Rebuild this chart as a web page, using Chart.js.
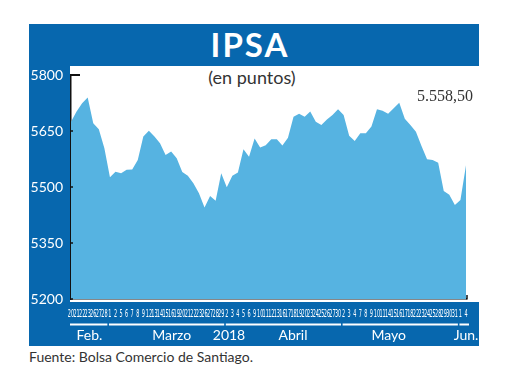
<!DOCTYPE html>
<html>
<head>
<meta charset="utf-8">
<script src="https://cdn.jsdelivr.net/npm/chart.js@4"></script>
<style>
  html, body { margin: 0; padding: 0; background: #ffffff; }
  #wrap { position: relative; width: 520px; height: 390px; overflow: hidden; background: #fff; }
  #frame { position: absolute; left: 29px; top: 24px; width: 450px; height: 322px; background: #0767ae; }
  #panel { position: absolute; left: 70px; top: 66px; width: 409px; height: 236px; background: #ffffff; }
  #title { position: absolute; left: 29px; top: 24px; width: 442px; height: 42px; line-height: 42px;
           text-align: center; color: #fff; font: 700 33px Lato, "Open Sans", sans-serif; letter-spacing: 2px; }
  #subtitle { position: absolute; left: 160px; top: 66px; width: 184px; text-align: center; color: #333;
              font: 18px Lato, "Open Sans", sans-serif; line-height: 22px; }
  #source { position: absolute; left: 29px; top: 348px; color: #333; font: 14px Lato, "Open Sans", sans-serif; line-height: 18px; }
  canvas { position: absolute; left: 0; top: 0; }
</style>
</head>
<body>
<div id="wrap">
  <div id="frame"></div>
  <div id="panel"></div>
  <div id="title">IPSA</div>
  <div id="subtitle">(en puntos)</div>
  <div id="source">Fuente: Bolsa Comercio de Santiago.</div>
  <canvas id="c" width="520" height="390"></canvas>
</div>
<script>
// ---- data ----
const febDays = [20, 21, 22, 23, 26, 27, 28];
const marDays = [1, 2, 5, 6, 7, 8, 9, 12, 13, 14, 15, 16, 19, 20, 21, 22, 23, 26, 27, 28, 29];
const aprDays = [2, 3, 4, 5, 6, 9, 10, 11, 12, 13, 16, 17, 18, 19, 20, 23, 24, 25, 26, 27, 30];
const mayDays = [2, 3, 4, 7, 8, 9, 10, 11, 14, 15, 16, 17, 18, 22, 23, 24, 25, 28, 29, 30, 31];
const junDays = [1, 4];

const febValues = [5675, 5702, 5724, 5740, 5671, 5655, 5604];
const marValues = [5526, 5541, 5537, 5546, 5547, 5572, 5635, 5651, 5635, 5617, 5586, 5595, 5577, 5540, 5530, 5510, 5483, 5445, 5476, 5463, 5537];
const aprValues = [5499, 5530, 5539, 5601, 5581, 5630, 5606, 5612, 5628, 5628, 5611, 5632, 5688, 5696, 5688, 5702, 5675, 5666, 5681, 5693, 5708];
const mayValues = [5693, 5637, 5623, 5644, 5644, 5662, 5708, 5704, 5696, 5711, 5726, 5683, 5666, 5648, 5610, 5574, 5572, 5565, 5489, 5479, 5452];
const junValues = [5465, 5558.5];

const monthLabels = ['Feb.', 'Marzo', '2018', 'Abril', 'Mayo', 'Jun.'];
const monthLabelAt = [3.3, 18.1, 28.4, 39.9, 57.1, 71];   // index positions of month captions
const yTicks = [5200, 5350, 5500, 5650, 5800];

// ---- build ----
const dayGroups = [febDays, marDays, aprDays, mayDays, junDays];
const dayLabels = [].concat(...dayGroups).map(String);
const ipsa = [].concat(febValues, marValues, aprValues, mayValues, junValues);

function fmtEs(v) {
  const s = v.toFixed(2).split('.');
  return s[0].replace(/\B(?=(\d{3})+(?!\d))/g, '.') + ',' + s[1];
}

const decor = {
  id: 'decor',
  afterDraw(chart) {
    const ctx = chart.ctx;
    const x = chart.scales.x, y = chart.scales.y;
    const area = chart.chartArea;
    ctx.save();
    // inward y ticks
    ctx.strokeStyle = '#111';
    yTicks.forEach(v => {
      const py = y.getPixelForValue(v);
      const top = v === yTicks[yTicks.length - 1];
      ctx.lineWidth = top ? 2 : 1.5;
      ctx.beginPath();
      ctx.moveTo(area.left - 1, py);
      ctx.lineTo(area.left + (top ? 9 : 2), py);
      ctx.stroke();
    });
    // right end hook of x axis
    ctx.lineWidth = 1.5;
    ctx.beginPath();
    ctx.moveTo(area.right + 1, area.bottom + 0.5);
    ctx.lineTo(area.right + 1, area.bottom - 4);
    ctx.stroke();
    // condensed day labels (one per category tick)
    ctx.fillStyle = '#ffffff';
    ctx.font = '10px "Liberation Sans Narrow", "DejaVu Sans Condensed", sans-serif';
    ctx.textAlign = 'center';
    ctx.textBaseline = 'middle';
    const sx = 0.55;
    x.ticks.forEach((t, i) => {
      const px = x.getPixelForTick(i);
      ctx.save();
      ctx.translate(px, area.bottom + 15.5);
      ctx.scale(sx, 1);
      ctx.fillText(x.getLabelForValue(t.value), 0, 0);
      ctx.restore();
    });
    // month underlines
    ctx.strokeStyle = '#ffffff';
    ctx.lineWidth = 2;
    let start = 0;
    dayGroups.forEach(g => {
      const a = x.getPixelForTick(start) - 1;
      const b = x.getPixelForTick(start + g.length - 1) + 3;
      ctx.beginPath();
      ctx.moveTo(a, 324.5);
      ctx.lineTo(b, 324.5);
      ctx.stroke();
      start += g.length;
    });
    // last value label
    const meta = chart.getDatasetMeta(0);
    const last = meta.data[meta.data.length - 1];
    ctx.fillStyle = '#333';
    ctx.font = '16px "Liberation Serif", serif';
    ctx.textAlign = 'right';
    ctx.textBaseline = 'middle';
    ctx.fillText(fmtEs(ipsa[ipsa.length - 1]), last.x + 7, area.top + 22);
    ctx.restore();
  }
};

new Chart(document.getElementById('c'), {
  type: 'line',
  data: {
    labels: dayLabels,
    datasets: [{
      data: ipsa,
      fill: 'start',
      backgroundColor: '#56b3e1',
      borderWidth: 0,
      borderColor: 'rgba(0,0,0,0)',
      pointRadius: 0,
      tension: 0
    }]
  },
  options: {
    responsive: false,
    animation: false,
    devicePixelRatio: 1,
    layout: { padding: { left: 0, right: 54, top: 75, bottom: 43 } },
    plugins: { legend: { display: false }, tooltip: { enabled: false }, title: { display: false } },
    scales: {
      x: {
        type: 'category',
        offset: false,
        position: 'bottom',
        grid: { display: true, drawOnChartArea: false, drawTicks: false },
        border: { display: true, color: '#111', width: 1.5 },
        ticks: { display: false, autoSkip: false, maxRotation: 0, minRotation: 0 },
        afterFit(s) { s.height = 24; }
      },
      months: {
        type: 'linear',
        position: 'bottom',
        min: 0,
        max: ipsa.length - 1,
        grid: { display: false },
        border: { display: false },
        afterBuildTicks(s) { s.ticks = monthLabelAt.map(v => ({ value: v })); },
        ticks: {
          autoSkip: false, maxRotation: 0, padding: -4, color: '#ffffff',
          font: { family: 'Lato, "Open Sans", sans-serif', size: 14 },
          callback: (v, i) => monthLabels[i]
        },
        afterFit(s) { s.height = 24; }
      },
      y: {
        min: 5200,
        max: 5800,
        afterBuildTicks(s) { s.ticks = yTicks.map(v => ({ value: v })); },
        grid: { display: true, drawOnChartArea: false, drawTicks: false },
        border: { display: true, color: '#111', width: 1.5 },
        ticks: {
          padding: 8, color: '#ffffff',
          font: { family: 'Lato, "Open Sans", sans-serif', size: 14 },
          callback: v => String(v)
        },
        afterFit(s) { s.width = 71; }
      }
    }
  },
  plugins: [decor]
});
</script>
</body>
</html>
